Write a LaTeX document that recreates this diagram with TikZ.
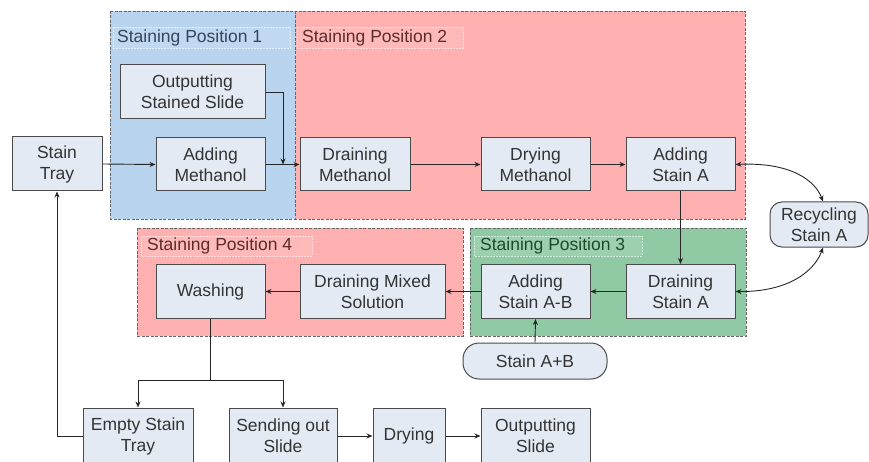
\documentclass[tikz,border=0pt]{standalone}
\usepackage{fontspec}
\setmainfont{Liberation Sans}
\usetikzlibrary{arrows.meta,calc}
\definecolor{bluebg}{HTML}{B8D4EE}
\definecolor{redbg}{HTML}{FFB0B0}
\definecolor{greenbg}{HTML}{8FCAA4}
\definecolor{boxfill}{HTML}{E4EAF4}
\definecolor{boxline}{HTML}{4A4A4A}
\definecolor{txt}{HTML}{333333}
\definecolor{bluetxt}{HTML}{34465A}
\definecolor{redtxt}{HTML}{5A2C2C}
\definecolor{greentxt}{HTML}{1F4A2C}
\tikzset{
  procbox/.style={draw=boxline, fill=boxfill, line width=1pt, text=txt, align=center,
    inner sep=0pt, font=\fontsize{17.5}{21}\selectfont},
  roundbox/.style={procbox, rounded corners=12pt},
  container/.style={draw=gray!80!black, line width=0.8pt, dash pattern=on 3pt off 1.5pt},
  poslabel/.style={anchor=west, inner sep=0pt, font=\fontsize{17.5}{20}\selectfont},
  labelrect/.style={draw=white!60!#1, fill=white!12!#1, line width=0.6pt, dash pattern=on 2pt off 1pt},
  arr/.style={draw=black!85, line width=0.9pt, -{Stealth[length=6pt,width=5pt]}},
  darr/.style={draw=black!85, line width=0.9pt, {Stealth[length=6pt,width=5pt]}-{Stealth[length=6pt,width=5pt]}},
  plain/.style={draw=black!85, line width=0.9pt}
}
\begin{document}
\begin{tikzpicture}[x=1pt,y=-1pt]
\useasboundingbox (0,0) rectangle (869,462);
% containers
\draw[container, fill=bluebg] (110,11) rectangle (295,219);
\draw[container, fill=redbg] (295,11) rectangle (745,219);
\draw[container, fill=redbg] (137,228) rectangle (463,336);
\draw[container, fill=greenbg] (470,228) rectangle (746,336);
% label rectangles
\draw[labelrect=bluebg] (113,27) rectangle (290,48);
\draw[labelrect=redbg] (297,27) rectangle (463,48);
\draw[labelrect=redbg] (141,236) rectangle (312,256);
\draw[labelrect=greenbg] (474,236) rectangle (642,256);
\node[poslabel, text=bluetxt] (l1) at (117,38) {Staining Position 1};
\node[poslabel, text=redtxt] (l2) at (302,38) {Staining Position 2};
\node[poslabel, text=redtxt] (l4) at (147,246) {Staining Position 4};
\node[poslabel, text=greentxt] (l3) at (480,246) {Staining Position 3};
% nodes
\node[procbox, minimum width=90pt, minimum height=54pt] (st) at (57,164) {Stain\\Tray};
\node[procbox, minimum width=145pt, minimum height=54pt] (oss) at (192.5,92) {Outputting\\Stained Slide};
\node[procbox, minimum width=109pt, minimum height=53pt] (am) at (210.5,164.5) {Adding\\Methanol};
\node[procbox, minimum width=110pt, minimum height=53pt] (dm) at (355,164.5) {Draining\\Methanol};
\node[procbox, minimum width=109pt, minimum height=53pt] (drm) at (535.5,164.5) {Drying\\Methanol};
\node[procbox, minimum width=109pt, minimum height=53pt] (asa) at (680.5,164.5) {Adding\\Stain A};
\node[roundbox, minimum width=98pt, minimum height=45pt] (rsa) at (819,224.5) {Recycling\\Stain A};
\node[procbox, minimum width=109pt, minimum height=54pt] (wash) at (210.5,291.5) {Washing};
\node[procbox, minimum width=145pt, minimum height=54pt] (dms) at (372.5,291.5) {Draining Mixed\\Solution};
\node[procbox, minimum width=109pt, minimum height=54pt] (asab) at (535.5,291.5) {Adding\\Stain A-B};
\node[procbox, minimum width=109pt, minimum height=54pt] (dsa) at (680.5,291.5) {Draining\\Stain A};
\node[roundbox, rounded corners=16pt, minimum width=144pt, minimum height=36pt] (sab) at (535,361) {Stain A+B};
\node[procbox, minimum width=110pt, minimum height=56pt] (est) at (138,436) {Empty Stain\\Tray};
\node[procbox, minimum width=108pt, minimum height=56pt] (sos) at (283,436) {Sending out\\Slide};
\node[procbox, minimum width=72pt, minimum height=56pt] (dry) at (409,436) {Drying};
\node[procbox, minimum width=109pt, minimum height=56pt] (os) at (535.5,436) {Outputting\\Slide};
% helper coordinates
\coordinate (j) at (283,164.5);
\coordinate (br) at (210.5,380);
% connectors
\draw[arr] (st.east) -- (am.west);
\draw[arr] (am.east) -- (dm.west);
\draw[arr] (oss.east) -| (j);
\draw[arr] (dm.east) -- (drm.west);
\draw[arr] (drm.east) -- (asa.west);
\draw[arr] (asa.south) -- (dsa.north);
\draw[darr] (asa.east) .. controls (790,162) and (815,180) .. ($(rsa.north)+(4,0)$);
\draw[darr] ($(rsa.south)+(4,0)$) .. controls (815,270) and (790,292) .. (dsa.east);
\draw[arr] (dsa.west) -- (asab.east);
\draw[arr] (asab.west) -- (dms.east);
\draw[arr] (dms.west) -- (wash.east);
\draw[arr] (sab.north) -- (asab.south);
\draw[plain] (wash.south) -- (br);
\draw[arr] (br) -| (est.north);
\draw[arr] (br) -| (sos.north);
\draw[arr] (est.west) -| (st.south);
\draw[arr] (sos.east) -- (dry.west);
\draw[arr] (dry.east) -- (os.west);
\end{tikzpicture}
\end{document}
